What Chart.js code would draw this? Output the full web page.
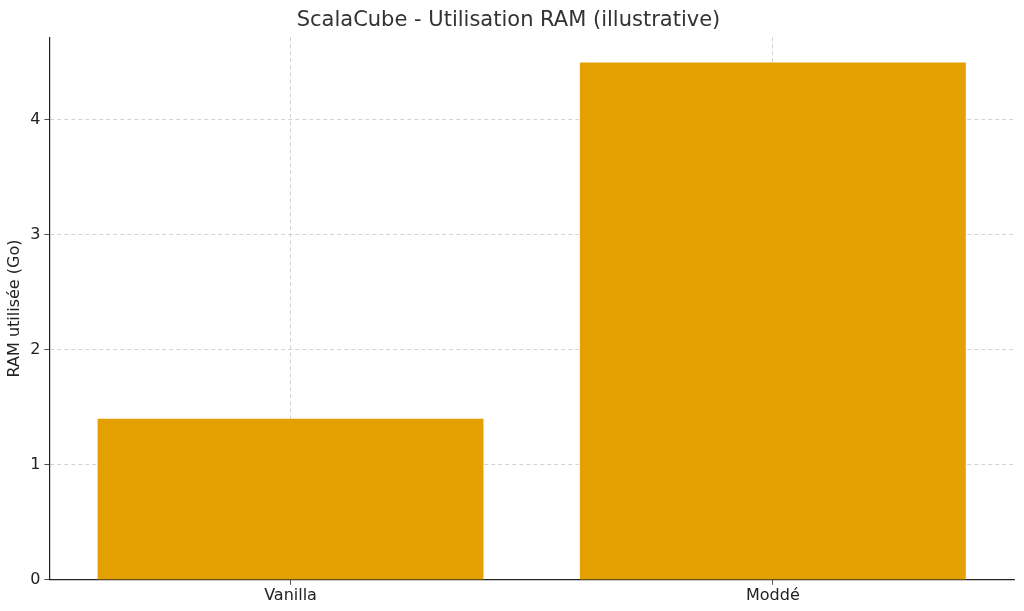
<!DOCTYPE html>
<html>
<head>
<meta charset="utf-8">
<script src="https://cdn.jsdelivr.net/npm/chart.js@4"></script>
<style>
  html, body { margin: 0; padding: 0; background: #fff; }
  #wrap { width: 1024px; height: 611px; }
</style>
</head>
<body>
<div id="wrap"><canvas id="c"></canvas></div>
<script>
const categories = ['Vanilla', 'Moddé']
const ramValues = [1.4, 4.5]
const yTicks = [0, 1, 2, 3, 4]

const font = 'DejaVu Sans'
const dashGrid = { color: '#c8c8c8', lineWidth: 0.8, tickColor: '#222', tickLength: 5 }

new Chart(document.getElementById('c'), {
  type: 'bar',
  data: {
    labels: categories,
    datasets: [{ label: 'RAM', data: ramValues, backgroundColor: '#e49f00', barPercentage: 0.8, categoryPercentage: 1 }],
  },
  options: {
    responsive: true,
    maintainAspectRatio: false,
    animation: false,
    layout: { padding: { left: 3, right: 10, top: 0, bottom: 5 } },
    plugins: {
      legend: { display: false },
      tooltip: { enabled: false },
      title: {
        display: true,
        text: 'ScalaCube - Utilisation RAM (illustrative)',
        color: '#333',
        font: { family: font, size: 21, weight: 'normal' },
        padding: { top: 8, bottom: 4 },
      },
    },
    scales: {
      x: {
        grid: { ...dashGrid, offset: false },
        border: { display: true, color: '#222', width: 1.2, dash: [4, 3] },
        ticks: { color: '#222', font: { family: font, size: 16 }, padding: 1 },
      },
      y: {
        min: 0,
        max: 4.72,
        afterBuildTicks: (axis) => { axis.ticks = yTicks.map((v) => ({ value: v })) },
        grid: dashGrid,
        border: { display: true, color: '#222', width: 1.2, dash: [4, 3] },
        ticks: { color: '#222', font: { family: font, size: 16 }, padding: 4 },
        title: { display: true, text: 'RAM utilisée (Go)', color: '#222', font: { family: font, size: 16 }, padding: 2 },
      },
    },
  },
})
</script>
</body>
</html>
